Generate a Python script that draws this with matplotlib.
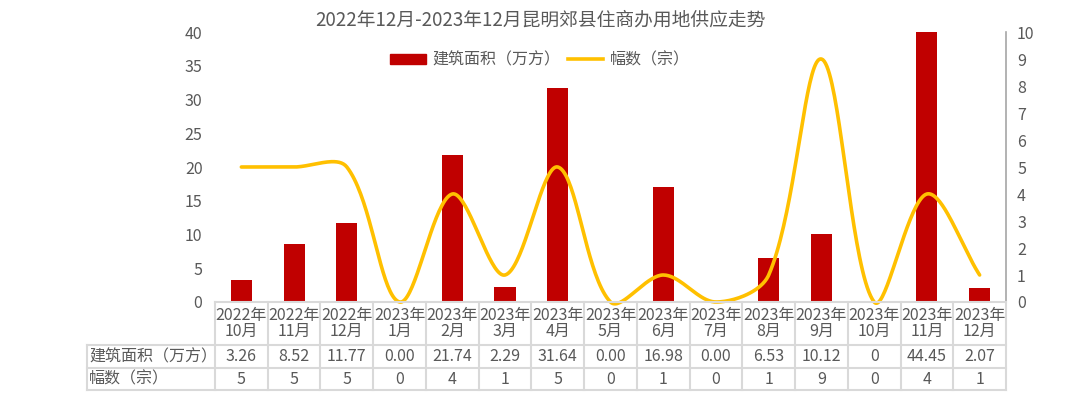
import matplotlib
matplotlib.use("Agg")
import matplotlib.pyplot as plt
import matplotlib.transforms as mtransforms
from matplotlib.lines import Line2D
from matplotlib.patches import Patch
import numpy as np

plt.rcParams['font.family'] = ['Noto Sans CJK SC', 'DejaVu Sans']

title = '2022年12月-2023年12月昆明郊县住商办用地供应走势'
months = ['2022年\n10月', '2022年\n11月', '2022年\n12月', '2023年\n1月', '2023年\n2月',
          '2023年\n3月', '2023年\n4月', '2023年\n5月', '2023年\n6月', '2023年\n7月',
          '2023年\n8月', '2023年\n9月', '2023年\n10月', '2023年\n11月', '2023年\n12月']
area = [3.26, 8.52, 11.77, 0.00, 21.74, 2.29, 31.64, 0.00, 16.98, 0.00, 6.53, 10.12, 0, 44.45, 2.07]
area_text = ['3.26', '8.52', '11.77', '0.00', '21.74', '2.29', '31.64', '0.00', '16.98', '0.00',
             '6.53', '10.12', '0', '44.45', '2.07']
count = [5, 5, 5, 0, 4, 1, 5, 0, 1, 0, 1, 9, 0, 4, 1]
row_labels = ['建筑面积（万方）', '幅数（宗）']

bar_color = '#C00000'
line_color = '#FFC000'
grey = '#595959'
grid_grey = '#D9D9D9'

W, H = 1080, 417
fs = 11.5


def smooth(xs, ys, kx, ky, n=40):
    # bezier through the points, control arms weighted by chord length (in pixels)
    # so the curve does not overshoot much, close to the excel smoothed line
    P = np.column_stack([np.asarray(xs, float) * kx, np.asarray(ys, float) * ky])
    m = len(P)
    outs, ins = [], []
    for i in range(m):
        p0 = P[max(i - 1, 0)]
        p2 = P[min(i + 1, m - 1)]
        T = p2 - p0
        d01 = np.linalg.norm(P[i] - p0)
        d12 = np.linalg.norm(p2 - P[i])
        tot = d01 + d12
        if tot == 0:
            outs.append(P[i])
            ins.append(P[i])
            continue
        outs.append(P[i] + T * d12 / tot / 3)
        ins.append(P[i] - T * d01 / tot / 3)
    res = []
    t = np.linspace(0, 1, n)[:, None]
    for i in range(m - 1):
        p1, p2 = P[i], P[i + 1]
        c1, c2 = outs[i], ins[i + 1]
        pts = (1 - t) ** 3 * p1 + 3 * (1 - t) ** 2 * t * c1 + 3 * (1 - t) * t ** 2 * c2 + t ** 3 * p2
        res.append(pts)
    res = np.vstack(res)
    return res[:, 0] / kx, res[:, 1] / ky


fig = plt.figure(figsize=(W / 100, H / 100), dpi=100)
left, right, top, bottom = 215, 1006, 32, 302
ax = fig.add_axes([left / W, 1 - bottom / H, (right - left) / W, (bottom - top) / H])
ax2 = ax.twinx()

x = np.arange(len(months))
ax.bar(x, area, width=0.4, color=bar_color, zorder=2)
ax.set_xlim(-0.5, len(months) - 0.5)
ax.set_ylim(0, 40)
ax.set_yticks(range(0, 41, 5))
ax.set_xticks([])

kx = (right - left) / len(months)
ky = (bottom - top) / 10
sx, sy = smooth(x, count, kx, ky)
ax2.plot(sx, sy, color=line_color, lw=2.6, clip_on=False, solid_capstyle='round')
ax2.set_ylim(0, 10)
ax2.set_yticks(range(0, 11))

for a in (ax, ax2):
    for s in a.spines.values():
        s.set_visible(False)
    a.tick_params(length=0, labelsize=11.5, labelcolor=grey)
ax.tick_params(axis='y', pad=9)
ax2.tick_params(axis='y', pad=8)
ax2.spines['right'].set_visible(True)
ax2.spines['right'].set_color('#A6A6A6')
ax2.spines['right'].set_linewidth(1.2)

# data table under the plot
tr = mtransforms.blended_transform_factory(ax.transData, fig.transFigure)
rows_px = [302, 345, 368, 390]
ry = [1 - r / H for r in rows_px]
label_left = -0.5 - (left - 87) / kx
xe = len(months) - 0.5


def hline(x0, x1, y):
    fig.add_artist(Line2D([x0, x1], [y, y], transform=tr, color=grid_grey, lw=1.5))


def vline(xv, y0, y1):
    fig.add_artist(Line2D([xv, xv], [y0, y1], transform=tr, color=grid_grey, lw=1.5))


hline(-0.5, xe, ry[0])
for y in ry[1:]:
    hline(label_left, xe, y)
vline(label_left, ry[1], ry[3])
for i in range(len(months) + 1):
    vline(i - 0.5, ry[0], ry[3])

for i, m in enumerate(months):
    fig.text(i, (ry[0] + ry[1]) / 2, m, transform=tr, ha='center', va='center',
             fontsize=fs, color=grey, linespacing=0.95)
    fig.text(i, (ry[1] + ry[2]) / 2, area_text[i], transform=tr, ha='center', va='center',
             fontsize=fs, color=grey)
    fig.text(i, (ry[2] + ry[3]) / 2, str(count[i]), transform=tr, ha='center', va='center',
             fontsize=fs, color=grey)

fig.text(label_left + 0.04, (ry[1] + ry[2]) / 2, row_labels[0], transform=tr, ha='left',
         va='center', fontsize=fs, color=grey)
fig.text(label_left + 0.04, (ry[2] + ry[3]) / 2, row_labels[1], transform=tr, ha='left',
         va='center', fontsize=fs, color=grey)

fig.text(0.5, 1 - 20 / H, title, ha='center', va='center', fontsize=13.5, color=grey)

handles = [Patch(color=bar_color), Line2D([], [], color=line_color, lw=2.6)]
fig.legend(handles, row_labels, loc='center', bbox_to_anchor=(0.5, 1 - 60 / H), ncol=2,
           frameon=False, fontsize=fs, labelcolor=grey, handlelength=2.2,
           handleheight=0.6, handletextpad=0.4, columnspacing=0.5)

fig.savefig('out.png', dpi=100)
